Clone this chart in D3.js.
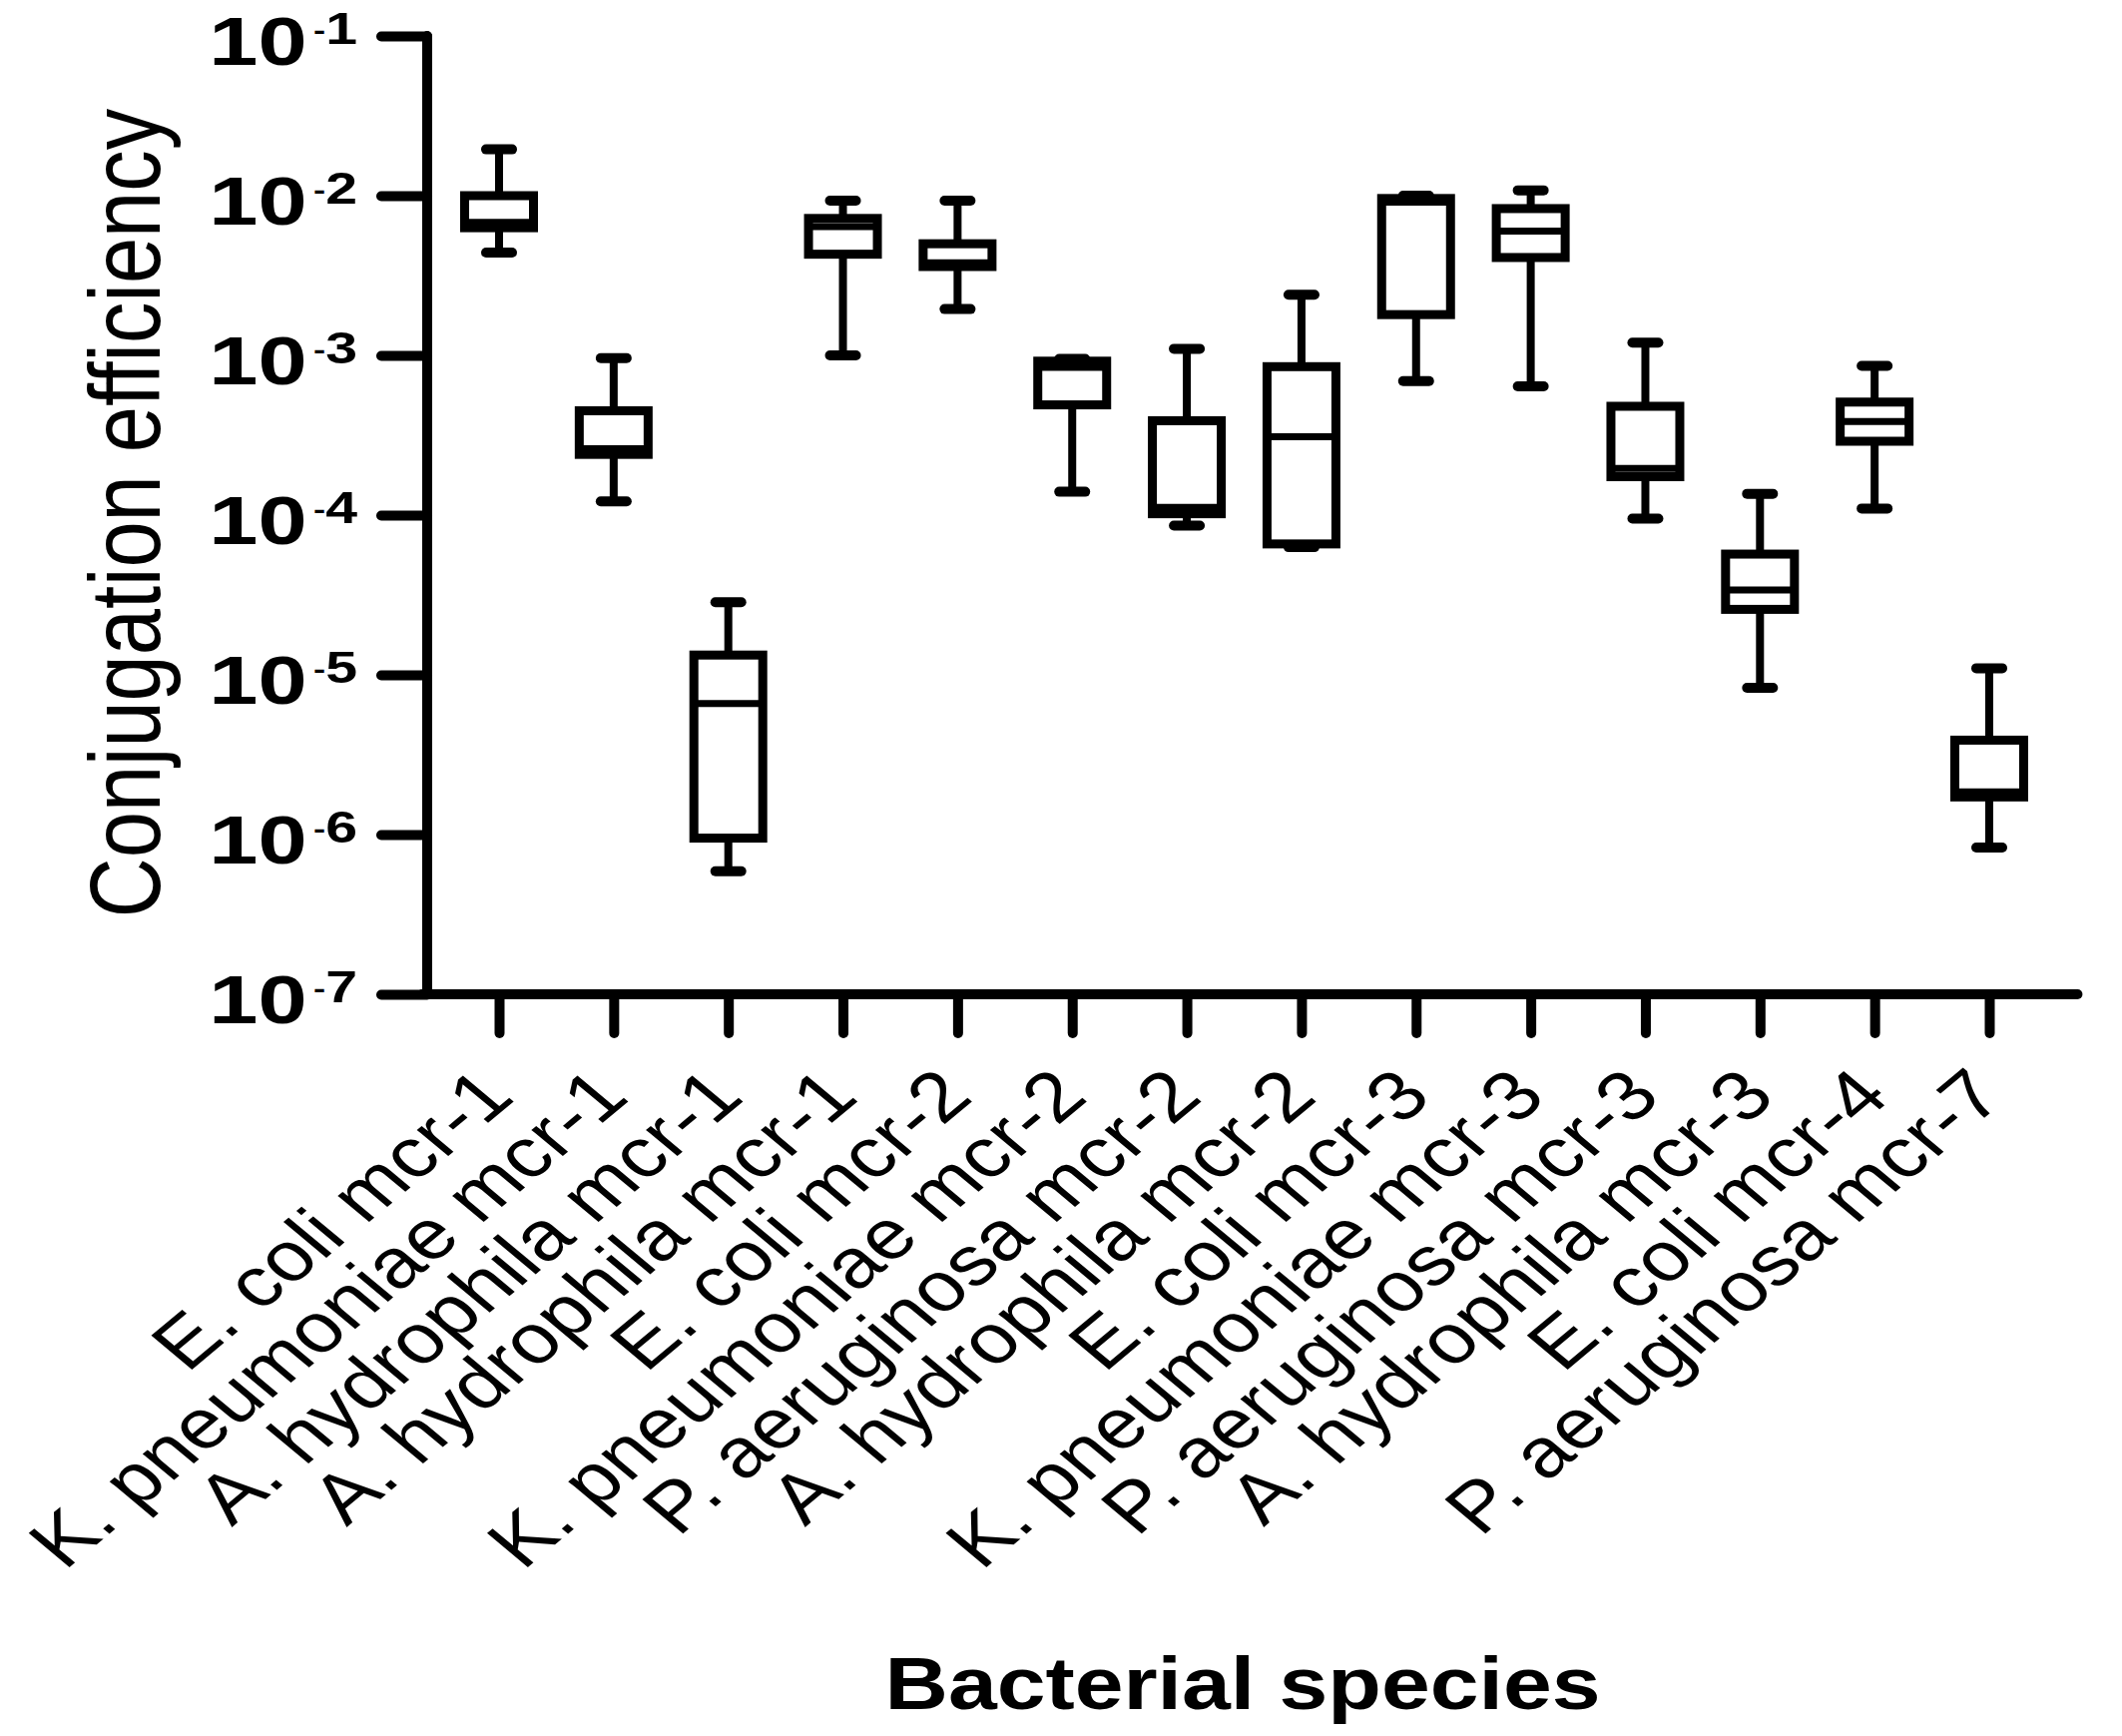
<!DOCTYPE html>
<html>
<head>
    <meta charset="utf-8">
    <style type="text/css">
        body { margin: 0; background: #fff; }
        #chart { display: block; }
        text {
            font-family: "Liberation Sans", Arial, sans-serif;
            fill: #000;
        }
        .axis path, .axis line {
            stroke: #000;
            stroke-width: 10px;
            stroke-linecap: round;
        }
        .box rect {
            fill: #fff;
            stroke: #000;
            stroke-width: 9px;
        }
        .box line.whisker { stroke: #000; stroke-width: 8px; }
        .box line.cap { stroke: #000; stroke-width: 10px; stroke-linecap: round; }
        .box line.median { stroke: #000; stroke-width: 7px; }
    </style>
    <script src="https://d3js.org/d3.v7.min.js"></script>
</head>
<body>
    <svg id="chart" width="2126" height="1739"></svg>
<script type="text/javascript">
// values (conjugation efficiency, log axis)
const categories = ['E. coli mcr-1', 'K. pneumoniae mcr-1', 'A. hydrophila mcr-1', 'A. hydrophila mcr-1',
                    'E. coli mcr-2', 'K. pneumoniae mcr-2', 'P. aeruginosa mcr-2', 'A. hydrophila mcr-2',
                    'E. coli mcr-3', 'K. pneumoniae mcr-3', 'P. aeruginosa mcr-3', 'A. hydrophila mcr-3',
                    'E. coli mcr-4', 'P. aeruginosa mcr-7'];
const minValues    = [4.4e-3, 1.22e-4, 5.9e-7, 1.0e-3, 1.95e-3, 1.4e-4, 8.6e-5, 6.3e-5, 6.9e-4, 6.4e-4, 9.5e-5, 8.3e-6, 1.1e-4, 8.3e-7];
const q1Values     = [6.3e-3, 2.4e-4, 9.5e-7, 4.3e-3, 3.6e-3, 4.9e-4, 1.02e-4, 6.6e-5, 1.8e-3, 4.1e-3, 1.74e-4, 2.57e-5, 2.9e-4, 1.72e-6];
const medianValues = [6.8e-3, 2.6e-4, 6.6e-6, 6.4e-3, 3.8e-3, 8.4e-4, 1.12e-4, 3.1e-4, 9.1e-3, 6.0e-3, 1.96e-4, 3.4e-5, 3.85e-4, 1.85e-6];
const q3Values     = [1.0e-2, 4.5e-4, 1.33e-5, 7.2e-3, 5.0e-3, 9.2e-4, 3.9e-4, 8.5e-4, 9.6e-3, 8.3e-3, 4.8e-4, 5.7e-5, 5.1e-4, 3.9e-6];
const maxValues    = [1.95e-2, 9.6e-4, 2.85e-5, 9.3e-3, 9.3e-3, 9.5e-4, 1.1e-3, 2.4e-3, 1.0e-2, 1.08e-2, 1.2e-3, 1.36e-4, 8.6e-4, 1.1e-5];
const yTickExponents = [-1, -2, -3, -4, -5, -6, -7];

const stretch = 1.2;   // the figure's lettering is wider than it is tall

const svg = d3.select('#chart');

const y = d3.scaleLog()
    .domain([1e-7, 1e-1])
    .range([996, 36]);

const x = d3.scalePoint()
    .domain(d3.range(categories.length))   // two labels repeat, so index the columns
    .range([500, 1993]);

const axisX = 428;

/**
 * y axis: decades with 10^n labels
 */
const yAxis = svg.append('g')
    .attr('class', 'axis')
    .attr('transform', 'translate(' + axisX + ',0)')
    .call(d3.axisLeft(y)
        .tickValues(yTickExponents.map(e => Math.pow(10, e)))
        .tickSize(46)
        .tickSizeOuter(0)
        .tickFormat(''));

yAxis.select('.domain').attr('d', 'M0,' + y.range()[0] + 'V' + y.range()[1]);

yAxis.selectAll('.tick').each(function(d) {
    const t = d3.select(this).append('text')
        .attr('transform', 'translate(-70,28) scale(1.3,1)')
        .attr('text-anchor', 'end')
        .style('font-weight', 'bold');
    t.append('tspan').style('font-size', '68px').text('10');
    t.append('tspan').style('font-size', '28px').attr('dx', 5).attr('dy', -25).text('-');
    t.append('tspan').style('font-size', '44px').attr('dy', 4)
        .text(String(Math.round(-Math.log10(d))));
});

/**
 * x axis: one tick per strain, labels slanted
 */
const xAxis = svg.append('g')
    .attr('class', 'axis')
    .attr('transform', 'translate(0,' + y.range()[0] + ')')
    .call(d3.axisBottom(x)
        .tickSize(39)
        .tickSizeOuter(0)
        .tickFormat(i => categories[i]));

xAxis.select('.domain')
    .attr('d', 'M' + (axisX - 5) + ',0H' + (x(categories.length - 1) + x.step() * 0.77));

xAxis.selectAll('.tick text')
    .attr('x', 0)
    .attr('y', 0)
    .attr('dy', null)
    .attr('text-anchor', 'end')
    .attr('transform', 'translate(17,105) scale(' + stretch + ',1) rotate(-45)')
    .style('font-size', '70px');

/**
 * boxes
 */
const boxW = 69;
const capW = 26;

const boxes = svg.append('g')
    .selectAll('g.box')
    .data(categories.map((c, i) => ({
        i: i,
        min: minValues[i], q1: q1Values[i], med: medianValues[i], q3: q3Values[i], max: maxValues[i]
    })))
    .enter()
    .append('g')
    .attr('class', 'box')
    .attr('transform', d => 'translate(' + x(d.i) + ',0)');

boxes.append('line')
    .attr('class', 'whisker')
    .attr('y1', d => y(d.max))
    .attr('y2', d => y(d.min));

boxes.append('rect')
    .attr('x', -boxW / 2)
    .attr('width', boxW)
    .attr('y', d => y(d.q3))
    .attr('height', d => y(d.q1) - y(d.q3));

boxes.append('line')
    .attr('class', 'median')
    .attr('x1', -boxW / 2)
    .attr('x2', boxW / 2)
    .attr('y1', d => y(d.med))
    .attr('y2', d => y(d.med));

boxes.selectAll('line.cap')
    .data(d => [d.min, d.max])
    .enter()
    .append('line')
    .attr('class', 'cap')
    .attr('x1', -capW / 2)
    .attr('x2', capW / 2)
    .attr('y1', v => y(v))
    .attr('y2', v => y(v));

/**
 * axis titles
 */
svg.append('text')
    .attr('transform', 'translate(160,514) scale(' + stretch + ',1) rotate(-90)')
    .attr('text-anchor', 'middle')
    .style('font-size', '83px')
    .text('Conjugation efficiency');

svg.append('text')
    .attr('transform', 'translate(1245,1712) scale(1.17,1)')
    .attr('text-anchor', 'middle')
    .style('font-size', '75px')
    .style('font-weight', 'bold')
    .text('Bacterial species');
</script>
</body>
</html>
